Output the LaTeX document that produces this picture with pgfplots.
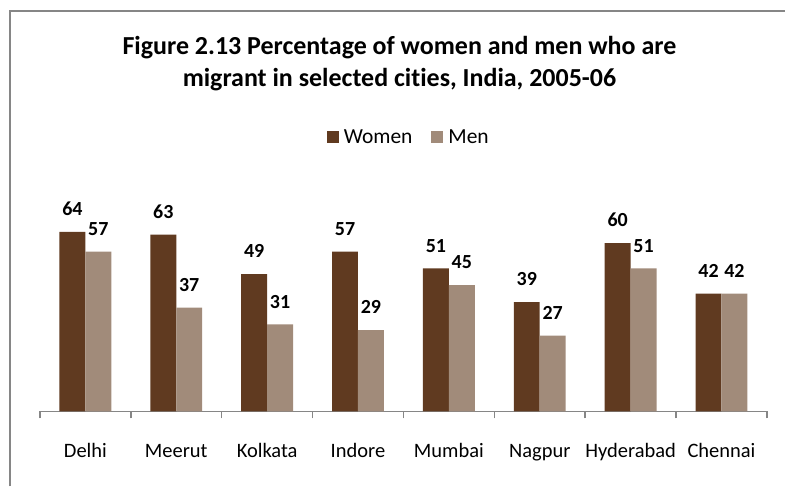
\documentclass[border=0pt]{standalone}
\usepackage{pgfplots}
\pgfplotsset{compat=1.18}
\usepackage{fontspec}
\setmainfont{Carlito}[Ligatures=NoCommon]
\definecolor{women}{RGB}{96,58,32}
\definecolor{men}{RGB}{161,139,122}
\definecolor{framegray}{RGB}{134,134,134}
\begin{document}
\begin{tikzpicture}[x=1pt,y=1pt]
\path (0,0) rectangle (786,487);
\draw[framegray, line width=2.2pt] (10,0) -- (10,476) -- (786,476);
\node[anchor=base, font=\bfseries\fontsize{26}{30}\selectfont] at (400,432) {Figure 2.13 Percentage of women and men who are};
\node[anchor=base, font=\bfseries\fontsize{26}{30}\selectfont] at (400,400) {migrant in selected cities, India, 2005-06};
\begin{axis}[
  at={(40pt,75pt)}, anchor=south west,
  scale only axis, width=728pt, height=196.6pt,
  ymin=0, ymax=70, xmin=0.5, xmax=8.5,
  ybar=0pt, bar width=26pt,
  axis y line=none, axis x line*=bottom,
  axis line style={-, draw=framegray, line width=1.5pt},
  xtick={1,...,8},
  xticklabels={Delhi,Meerut,Kolkata,Indore,Mumbai,Nagpur,Hyderabad,Chennai},
  major tick length=0pt,
  minor xtick={0.5,1.5,...,8.5},
  minor tick length=7pt,
  tick align=outside,
  minor tick style={draw=framegray, line width=1.5pt},
  xticklabel style={font=\fontsize{20.5}{24}\selectfont, anchor=base, yshift=-46pt},
  clip=false,
  nodes near coords,
  /pgf/number format/assume math mode=true,
  every node near coord/.append style={font=\bfseries\fontsize{20}{24}\selectfont, anchor=south, inner sep=0pt, yshift=16pt, text=black},
  legend style={at={(0.506,1.397)}, anchor=center, draw=none, legend columns=2,
    font=\fontsize{21.5}{24}\selectfont, inner sep=0pt, nodes={inner sep=0pt},
    /tikz/every odd column/.append style={column sep=5pt},
    /tikz/every even column/.append style={column sep=19pt}},
]
\addplot[fill=women, draw=none, legend image code/.code={\fill[women] (0pt,-6pt) rectangle (12pt,6pt);}] coordinates {(1,64) (2,63) (3,49) (4,57) (5,51) (6,39) (7,60) (8,42)};
\addplot[fill=men, draw=none, legend image code/.code={\fill[men] (0pt,-6pt) rectangle (12pt,6pt);}] coordinates {(1,57) (2,37) (3,31) (4,29) (5,45) (6,27) (7,51) (8,42)};
\legend{Women,Men}
\end{axis}
\end{tikzpicture}
\end{document}
